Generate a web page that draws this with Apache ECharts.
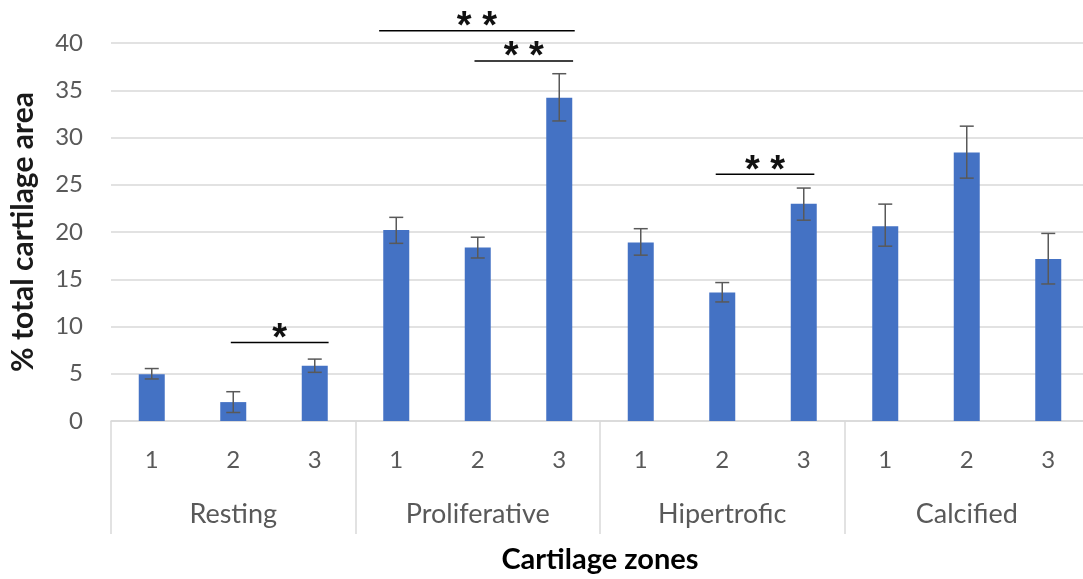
<!DOCTYPE html>
<html>
<head>
<meta charset="utf-8">
<script src="https://cdn.jsdelivr.net/npm/echarts@6/dist/echarts.min.js"></script>
<style>html,body{margin:0;padding:0;background:#fff;overflow:hidden}#c{width:1089px;height:579px}</style>
</head>
<body>
<div id="c"></div>
<script>
// ---- data ----
const groups = ['Resting', 'Proliferative', 'Hipertrofic', 'Calcified'];
const subLabels = ['1', '2', '3', '1', '2', '3', '1', '2', '3', '1', '2', '3'];
const means = [4.95, 2.0, 5.85, 20.2, 18.35, 34.2, 18.9, 13.6, 23.0, 20.6, 28.4, 17.15];
const errLow = [4.45, 0.9, 5.15, 18.8, 17.25, 31.75, 17.55, 12.6, 21.25, 18.5, 25.7, 14.5];
const errHigh = [5.55, 3.1, 6.55, 21.55, 19.45, 36.75, 20.35, 14.65, 24.65, 22.95, 31.2, 19.85];
const yTicks = [0, 5, 10, 15, 20, 25, 30, 35, 40];
// significance annotations: from / to (category positions), level (value), label
const sigFrom = [0.97, 2.79, 3.96, 6.92];
const sigTo = [2.17, 5.19, 5.17, 8.13];
const sigLevel = [8.3, 41.3, 38.1, 26.1];
const sigLabel = ['*', '* *', '* *', '* *'];

const errData = subLabels.map((c, i) => [i, errLow[i], errHigh[i]]);
const sigData = sigFrom.map((f, i) => [f, sigTo[i], sigLevel[i], i]);

const chart = echarts.init(document.getElementById('c'), null, {renderer: 'canvas'});
const gray = '#595959';
const gridCol = '#d9d9d9';

function catX(api, pos) {
  const base = Math.floor(pos + 0.5);
  const bw = api.size([1, 0])[0];
  return api.coord([base, 0])[0] + (pos - base) * bw;
}

chart.setOption({
  animation: false,
  grid: {left: 110, right: 0, top: 43, bottom: 157.5, containLabel: false},
  xAxis: [
    {
      type: 'category',
      data: subLabels,
      position: 'bottom',
      axisLine: {show: true, lineStyle: {color: gridCol, width: 1.5}},
      axisTick: {show: true, length: 113, lineStyle: {color: gridCol, width: 1.5},
        interval: function (i) { return i % 3 === 0; }},
      axisLabel: {color: gray, fontFamily: 'Lato', fontSize: 24, margin: 27, interval: 0},
      name: 'Cartilage zones',
      nameLocation: 'middle',
      nameGap: 124,
      nameTextStyle: {fontFamily: 'Lato', fontWeight: 'bold', fontSize: 29, color: '#000'}
    },
    {
      type: 'category',
      data: groups,
      position: 'bottom',
      axisLine: {show: false},
      axisTick: {show: false},
      axisLabel: {color: gray, fontFamily: 'Lato', fontSize: 27, margin: 80, interval: 0}
    }
  ],
  yAxis: {
    type: 'value',
    min: yTicks[0],
    max: yTicks[yTicks.length - 1],
    interval: yTicks[1] - yTicks[0],
    axisLine: {show: false},
    axisTick: {show: false},
    splitLine: {lineStyle: {color: gridCol, width: 1.5}},
    axisLabel: {color: gray, fontFamily: 'Lato', fontSize: 24, margin: 28},
    name: '% total cartilage area',
    nameLocation: 'middle',
    nameGap: 73,
    nameTextStyle: {fontFamily: 'Lato', fontWeight: 'bold', fontSize: 30, color: '#1a1a1a'}
  },
  series: [
    {
      type: 'bar',
      data: means,
      barWidth: 26,
      itemStyle: {color: '#4472C4'},
      xAxisIndex: 0
    },
    {
      type: 'custom',
      xAxisIndex: 0,
      data: errData,
      z: 3,
      renderItem: function (params, api) {
        const lo = api.coord([api.value(0), api.value(1)]);
        const hi = api.coord([api.value(0), api.value(2)]);
        const hw = 7;
        const st = {stroke: '#595959', lineWidth: 1.5};
        return {type: 'group', children: [
          {type: 'line', shape: {x1: lo[0], y1: lo[1], x2: hi[0], y2: hi[1]}, style: st},
          {type: 'line', shape: {x1: lo[0] - hw, y1: lo[1], x2: lo[0] + hw, y2: lo[1]}, style: st},
          {type: 'line', shape: {x1: hi[0] - hw, y1: hi[1], x2: hi[0] + hw, y2: hi[1]}, style: st}
        ]};
      }
    },
    {
      type: 'custom',
      xAxisIndex: 0,
      data: sigData,
      clip: false,
      z: 4,
      renderItem: function (params, api) {
        const x1 = catX(api, api.value(0));
        const x2 = catX(api, api.value(1));
        const y = api.coord([0, api.value(2)])[1];
        const lbl = sigLabel[api.value(3)];
        return {type: 'group', children: [
          {type: 'line', shape: {x1: x1, y1: y, x2: x2, y2: y}, style: {stroke: '#000', lineWidth: 1.5}},
          {type: 'text', x: (x1 + x2) / 2, y: y - 3,
            style: {text: lbl, fill: '#111', font: 'bold 38px "Liberation Sans"', align: 'center', verticalAlign: 'middle'}}
        ]};
      }
    }
  ]
});
</script>
</body>
</html>
